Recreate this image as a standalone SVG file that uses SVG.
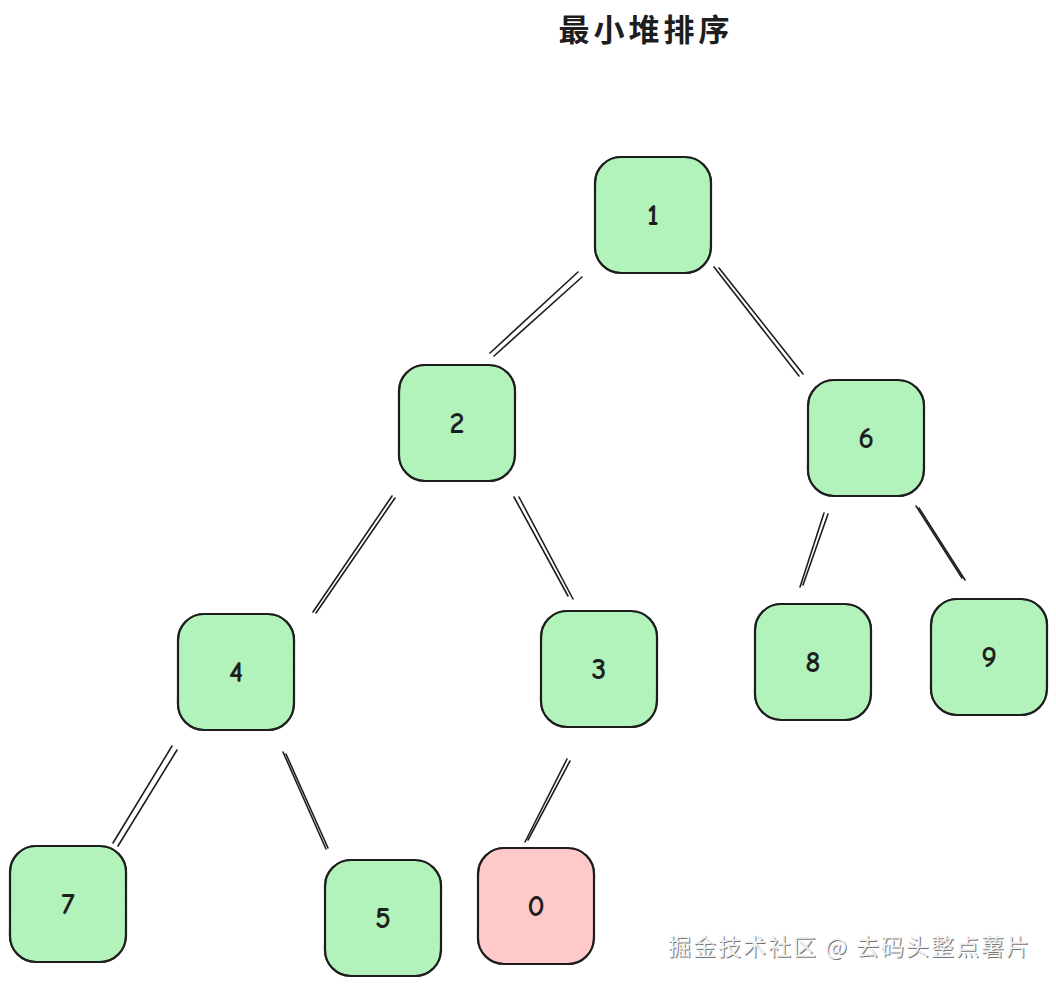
<svg xmlns="http://www.w3.org/2000/svg" width="1056" height="988" viewBox="0 0 1056 988">
<style>
.box{stroke:#1e1e1e;stroke-width:2.2;}
.g{fill:#b2f2bb;}
.r{fill:#ffc9c9;}
.s{fill:none;stroke:#1e1e1e;stroke-width:1.3;}
.lbl{font-family:"Comic Neue","Liberation Sans","Noto Sans",sans-serif;font-size:30px;font-weight:bold;fill:#1e1e1e;text-anchor:middle;dominant-baseline:central;}
.c line{stroke:#1e1e1e;stroke-width:1.6;stroke-linecap:round;}
.title{font-family:"Noto Sans CJK SC",sans-serif;font-size:31px;font-weight:bold;fill:#1e1e1e;text-anchor:middle;letter-spacing:4px;}
.wm{font-family:"Noto Sans CJK SC",sans-serif;font-size:23px;text-anchor:start;letter-spacing:2px;}
</style>
<defs>
<g id="sk">
<rect x="-58" y="-58" width="116" height="116" rx="26" class="s" transform="rotate(0.8)"/>
</g>
</defs>
<rect width="1056" height="988" fill="#ffffff"/>
<text x="646" y="41" class="title">最小堆排序</text>

<g class="c" id="connectors">
<line x1="578" y1="272" x2="490" y2="353"/><line x1="582" y1="277" x2="494" y2="356"/>
<line x1="714" y1="267" x2="799" y2="376"/><line x1="719" y1="268" x2="803" y2="374"/>
<line x1="392" y1="496" x2="313" y2="612"/><line x1="395" y1="498" x2="316" y2="613"/>
<line x1="514" y1="497" x2="568" y2="596"/><line x1="519" y1="497" x2="573" y2="599"/>
<line x1="824" y1="513" x2="800" y2="587"/><line x1="828" y1="514" x2="803" y2="585"/>
<line x1="916" y1="506" x2="962" y2="578"/><line x1="919" y1="508" x2="965" y2="580"/>
<line x1="172" y1="746" x2="113" y2="843"/><line x1="177" y1="750" x2="118" y2="846"/>
<line x1="283" y1="752" x2="326" y2="849"/><line x1="286" y1="754" x2="328" y2="848"/>
<line x1="567" y1="759" x2="525" y2="842"/><line x1="570" y1="761" x2="528" y2="840"/>
</g>

<g id="n1" transform="translate(653,215)">
<rect x="-58" y="-58" width="116" height="116" rx="26" class="box g"/><use href="#sk"/>
<text class="lbl" x="0" y="0">1</text></g>
<g id="n2" transform="translate(457,423)">
<rect x="-58" y="-58" width="116" height="116" rx="26" class="box g"/><use href="#sk"/>
<text class="lbl" x="0" y="0">2</text></g>
<g id="n6" transform="translate(866,438)">
<rect x="-58" y="-58" width="116" height="116" rx="26" class="box g"/><use href="#sk"/>
<text class="lbl" x="0" y="0">6</text></g>
<g id="n4" transform="translate(236,672)">
<rect x="-58" y="-58" width="116" height="116" rx="26" class="box g"/><use href="#sk"/>
<text class="lbl" x="0" y="0">4</text></g>
<g id="n3" transform="translate(599,669)">
<rect x="-58" y="-58" width="116" height="116" rx="26" class="box g"/><use href="#sk"/>
<text class="lbl" x="0" y="0">3</text></g>
<g id="n8" transform="translate(813,662)">
<rect x="-58" y="-58" width="116" height="116" rx="26" class="box g"/><use href="#sk"/>
<text class="lbl" x="0" y="0">8</text></g>
<g id="n9" transform="translate(989,657)">
<rect x="-58" y="-58" width="116" height="116" rx="26" class="box g"/><use href="#sk"/>
<text class="lbl" x="0" y="0">9</text></g>
<g id="n7" transform="translate(68,904)">
<rect x="-58" y="-58" width="116" height="116" rx="26" class="box g"/><use href="#sk"/>
<text class="lbl" x="0" y="0">7</text></g>
<g id="n5" transform="translate(383,918)">
<rect x="-58" y="-58" width="116" height="116" rx="26" class="box g"/><use href="#sk"/>
<text class="lbl" x="0" y="0">5</text></g>
<g id="n0" transform="translate(536,906)">
<rect x="-58" y="-58" width="116" height="116" rx="26" class="box r"/><use href="#sk"/>
<text class="lbl" x="0" y="0">0</text></g>

<g id="watermark">
<text x="669" y="956" class="wm" fill="#777777">掘金技术社区 @ 去码头整点薯片</text>
<text x="668" y="955" class="wm" fill="#f2f2f2">掘金技术社区 @ 去码头整点薯片</text>
</g>
</svg>
